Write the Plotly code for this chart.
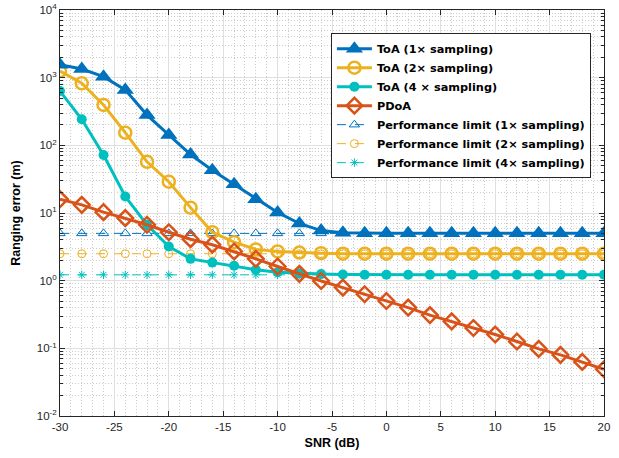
import plotly.graph_objects as go

snr = [-30, -28, -26, -24, -22, -20, -18, -16, -14, -12, -10, -8, -6, -4, -2, 0,
       2, 4, 6, 8, 10, 12, 14, 16, 18, 20]

toa1 = [1550, 1340, 1035, 660, 280, 142, 73, 43, 26.6, 16, 10.2, 7.0, 5.5, 5.1,
        5.0, 5.0, 5.0, 5.0, 5.0, 5.0, 5.0, 5.0, 5.0, 5.0, 5.0, 5.0]
toa2 = [1250, 826, 395, 154, 57, 29, 12, 5.2, 3.7, 2.9, 2.7, 2.6, 2.55, 2.5,
        2.5, 2.5, 2.5, 2.5, 2.5, 2.5, 2.5, 2.5, 2.5, 2.5, 2.5, 2.5]
toa4 = [634, 243, 72, 17.5, 6.7, 3.2, 2.1, 1.85, 1.66, 1.45, 1.33, 1.28, 1.25, 1.23,
        1.22, 1.22, 1.22, 1.22, 1.22, 1.22, 1.22, 1.22, 1.22, 1.22, 1.22, 1.22]
pdoa = [16, 13.2, 10.3, 8.4, 6.7, 5.2, 4.1, 3.4, 2.7, 2.1, 1.62, 1.26, 0.99, 0.79,
        0.63, 0.50, 0.40, 0.31, 0.25, 0.20, 0.16, 0.126, 0.098, 0.080, 0.063, 0.049]
lim1 = [5.0] * len(snr)
lim2 = [2.5] * len(snr)
lim4 = [1.22] * len(snr)

names = ["ToA (1\u00d7 sampling)", "ToA (2\u00d7 sampling)", "ToA (4 \u00d7 sampling)", "PDoA",
         "Performance limit (1\u00d7 sampling)", "Performance limit (2\u00d7 sampling)",
         "Performance limit (4\u00d7 sampling)"]

xticks = [-30, -25, -20, -15, -10, -5, 0, 5, 10, 15, 20]
yexp = [-2, -1, 0, 1, 2, 3, 4]

BLUE = "#0072BD"
YEL = "#EDB120"
TEAL = "#00BFBF"
ORG = "#D95319"

fig = go.Figure()
fig.add_trace(go.Scatter(x=snr, y=lim1, name=names[4], mode="lines+markers",
                         line=dict(color=BLUE, width=1, dash="dash"),
                         marker=dict(symbol="triangle-up-open", size=9, color=BLUE, line=dict(width=1))))
fig.add_trace(go.Scatter(x=snr, y=lim2, name=names[5], mode="lines+markers",
                         line=dict(color=YEL, width=1, dash="dash"),
                         marker=dict(symbol="circle-open", size=8, color=YEL, line=dict(width=1))))
fig.add_trace(go.Scatter(x=snr, y=lim4, name=names[6], mode="lines+markers",
                         line=dict(color=TEAL, width=1, dash="dash"),
                         marker=dict(symbol="asterisk-open", size=7, color=TEAL, line=dict(width=1, color=TEAL))))
fig.add_trace(go.Scatter(x=snr, y=toa4, name=names[2], mode="lines+markers",
                         line=dict(color=TEAL, width=3),
                         marker=dict(symbol="circle", size=10, color=TEAL)))
fig.add_trace(go.Scatter(x=snr, y=toa2, name=names[1], mode="lines+markers",
                         line=dict(color=YEL, width=3),
                         marker=dict(symbol="circle-open", size=12, color=YEL, line=dict(width=2.5))))
fig.add_trace(go.Scatter(x=snr, y=pdoa, name=names[3], mode="lines+markers",
                         line=dict(color=ORG, width=3),
                         marker=dict(symbol="diamond-open", size=12, color=ORG, line=dict(width=2.5))))
fig.add_trace(go.Scatter(x=snr, y=toa1, name=names[0], mode="lines+markers",
                         line=dict(color=BLUE, width=3),
                         marker=dict(symbol="triangle-up", size=15, color=BLUE)))

minor_y = [m * 10 ** e for e in yexp[:-1] for m in range(2, 10)]

fig.update_layout(
    width=619, height=458,
    margin=dict(l=60, r=15, t=10, b=42),
    paper_bgcolor="white", plot_bgcolor="white",
    font=dict(family="Liberation Sans, Arial", size=12, color="#262626"),
    legend=dict(x=0.498, y=0.943, xanchor="left", yanchor="top",
                bgcolor="white", bordercolor="#262626", borderwidth=1,
                font=dict(family="DejaVu Sans", size=11.3, color="black", weight="bold"),
                traceorder="normal", tracegroupgap=0, itemwidth=35),
    showlegend=True,
)

fig.update_xaxes(
    range=[-30, 20], tickmode="array", tickvals=xticks,
    ticktext=[str(v) for v in xticks],
    ticks="inside", ticklen=5, tickcolor="#262626",
    showline=True, linecolor="#262626", linewidth=1, mirror="allticks",
    showgrid=True, gridcolor="#dfdfdf", gridwidth=1, zeroline=False, automargin=False,
    tickfont=dict(size=11.5, color="#262626"),
    title=dict(text="SNR (dB)", font=dict(size=12.5, color="black", weight="bold"), standoff=6),
    minor=dict(dtick=1, ticks="", showgrid=True, gridcolor="#cccccc", griddash="1px,2px", gridwidth=1),
)
fig.update_yaxes(
    type="log", range=[-2, 4], tickmode="array",
    tickvals=[10 ** e for e in yexp],
    ticktext=["10<sup>%d</sup>" % e for e in yexp],
    ticks="inside", ticklen=5, tickcolor="#262626",
    showline=True, linecolor="#262626", linewidth=1, mirror="allticks",
    showgrid=True, gridcolor="#dfdfdf", gridwidth=1, zeroline=False, automargin=False,
    tickfont=dict(size=11.5, color="#262626"),
    title=dict(text="Ranging error (m)", font=dict(size=12.5, color="black", weight="bold"), standoff=13),
    minor=dict(tickmode="array", tickvals=minor_y, ticks="inside", ticklen=3, tickcolor="#262626",
               showgrid=True, gridcolor="#cccccc", griddash="1px,2px", gridwidth=1),
)

order = [6, 4, 3, 5, 0, 1, 2]
for rank, idx in enumerate(order):
    fig.data[idx].legendrank = rank + 1

fig.write_html("out.html", config={"displayModeBar": False},
               post_script="document.body.style.margin='0px';")
